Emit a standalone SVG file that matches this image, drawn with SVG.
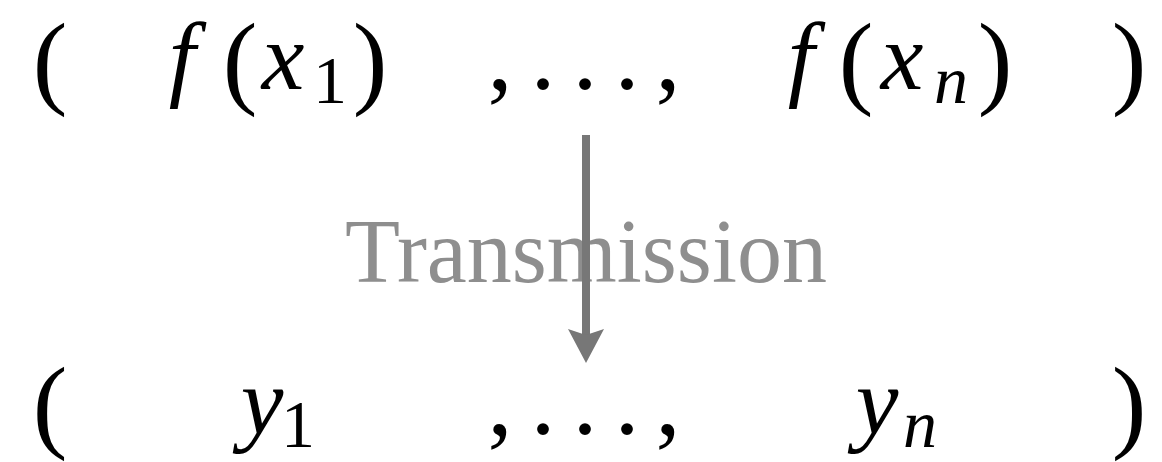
<svg xmlns="http://www.w3.org/2000/svg" width="1162" height="462" viewBox="0 0 1162 462">
  <style>
    text { font-family: "Liberation Serif", "Times New Roman", serif; fill: #000; text-anchor: middle; }
    .it { font-style: italic; font-size: 96px; }
    .par { font-size: 104px; }
    .sub { font-size: 68px; }
    .subit { font-style: italic; font-size: 68px; }
    .punct { font-size: 100px; }
    .lbl { font-size: 90px; fill: #8e8e8e; }
    .arrow { stroke: #777777; stroke-width: 8; fill: none; }
  </style>
  <defs>
    <marker id="ah" viewBox="0 0 34 36" markerWidth="34" markerHeight="36" markerUnits="userSpaceOnUse" refX="6" refY="18" orient="auto">
      <path d="M0,0 L34,18 L0,36 L6,18 Z" fill="#777777"/>
    </marker>
  </defs>
  <rect width="1162" height="462" fill="#ffffff"/>

  <g id="top-tuple">
    <text class="par" x="50" y="95">(</text>
    <text class="it" x="182" y="89">f</text>
    <text class="par" x="240" y="95">(</text>
    <text class="it" x="283" y="89">x</text>
    <text class="sub" x="330" y="103">1</text>
    <text class="par" x="370" y="95">)</text>
    <text class="punct" x="500 543 585 627 668" y="89">,...,</text>
    <text class="it" x="801" y="89">f</text>
    <text class="par" x="856" y="95">(</text>
    <text class="it" x="902" y="89">x</text>
    <text class="subit" x="951" y="103">n</text>
    <text class="par" x="995" y="95">)</text>
    <text class="par" x="1129" y="95">)</text>
  </g>

  <g id="bottom-tuple">
    <text class="par" x="50" y="439">(</text>
    <text class="it" x="262" y="434">y</text>
    <text class="sub" x="298" y="447">1</text>
    <text class="punct" x="500 543 585 627 668" y="434">,...,</text>
    <text class="it" x="877" y="434">y</text>
    <text class="subit" x="920" y="447">n</text>
    <text class="par" x="1129" y="439">)</text>
  </g>

  <g id="connectors">
    <text class="lbl" x="586" y="282">Transmission</text>
    <line class="arrow" x1="586" y1="135" x2="586" y2="335" marker-end="url(#ah)"/>
  </g>
</svg>
